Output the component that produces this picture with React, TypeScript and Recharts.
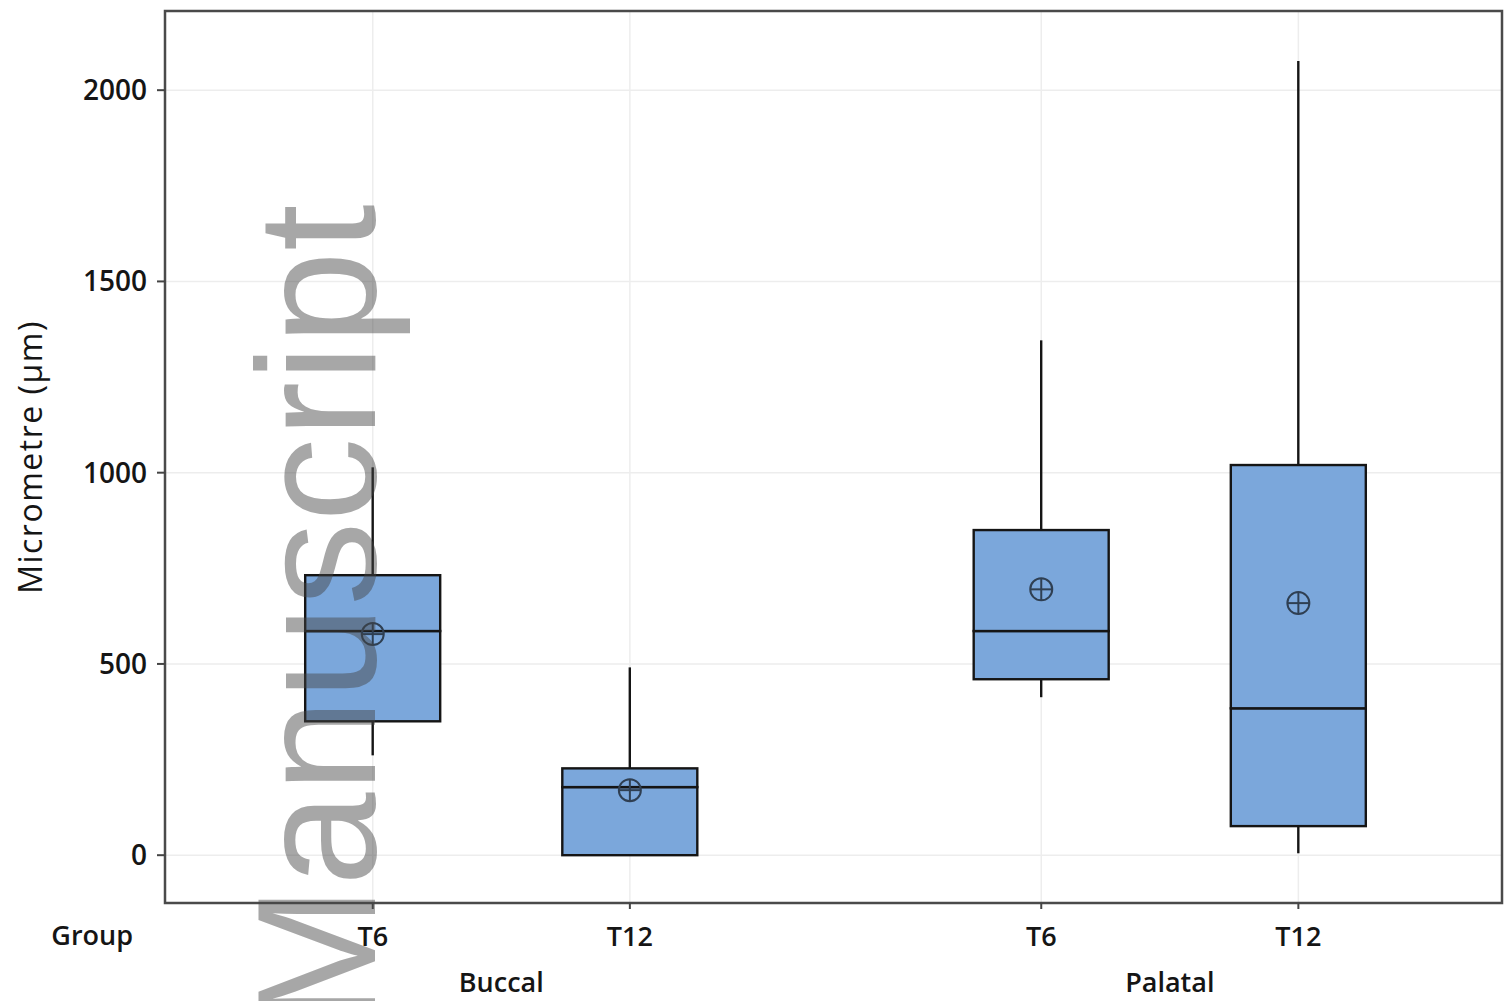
import React from 'react';
import {
  ComposedChart,
  Bar,
  Scatter,
  XAxis,
  YAxis,
  CartesianGrid,
  ReferenceArea,
} from 'recharts';

// box plot stats (micrometre)
const groups = ['Buccal', 'Palatal'];
const groupPos = [1.5, 4.1];
const times = ['T6', 'T12', 'T6', 'T12'];
const xPos = [1, 2, 3.6, 4.6];
const whiskerLow = [261, 0, 413, 5];
const q1 = [350, 0, 460, 76];
const median = [586, 178, 586, 384];
const q3 = [732, 227, 850, 1020];
const whiskerHigh = [1014, 491, 1346, 2076];
const mean = [578, 170, 695, 659];
const yTicks = [0, 500, 1000, 1500, 2000];

const X_DOMAIN: [number, number] = [0.192, 5.392];
const Y_DOMAIN: [number, number] = [-125, 2207];

const FONT = '"Open Sans", "Noto Sans", sans-serif';
const BOX_FILL = '#7ba7db';
const INK = '#151515';

// stacked segments: invisible base, lower whisker, lower box, upper box, upper whisker
const rows = xPos.map((x, i) => ({
  x,
  base: whiskerLow[i],
  lowWhisker: q1[i] - whiskerLow[i],
  lowBox: median[i] - q1[i],
  highBox: q3[i] - median[i],
  highWhisker: whiskerHigh[i] - q3[i],
  mean: mean[i],
}));

const Empty = () => <g />;

const Whisker = (props: any) => {
  const { x, y, width, height } = props;
  const cx = x + width / 2;
  return <line x1={cx} x2={cx} y1={y} y2={y + height} stroke={INK} strokeWidth={2.4} />;
};

const BoxPart = (props: any) => {
  const { x, y, width, height } = props;
  return (
    <rect x={x} y={y} width={width} height={Math.max(height, 0)} fill={BOX_FILL} stroke={INK} strokeWidth={2.4} />
  );
};

const MeanMarker = (props: any) => {
  const { cx, cy } = props;
  const r = 11;
  return (
    <g stroke="#2f3f52" strokeWidth={2} fill="none">
      <circle cx={cx} cy={cy} r={r} />
      <line x1={cx - r} x2={cx + r} y1={cy} y2={cy} />
      <line x1={cx} x2={cx} y1={cy - r} y2={cy + r} />
    </g>
  );
};

const tickStyle = { fontFamily: FONT, fontSize: 27, fontWeight: 600, fill: INK };
const yTickStyle = { ...tickStyle, fontSize: 28 };

export default function App() {
  return (
    <div style={{ position: 'absolute', left: 0, top: 0, width: 1504, height: 1001, background: '#fff' }}>
      <ComposedChart width={1504} height={1001} data={rows} margin={{ top: 11, right: 2, bottom: 0, left: 0 }}>
        <CartesianGrid stroke="#ededed" strokeWidth={1.5} />
        <XAxis
          dataKey="x"
          type="number"
          domain={X_DOMAIN}
          ticks={xPos}
          allowDataOverflow
          tickFormatter={(v: number) => times[xPos.indexOf(v)]}
          height={50}
          axisLine={false}
          tickSize={6}
          tickMargin={18}
          tickLine={{ stroke: '#444', strokeWidth: 2 }}
          tick={tickStyle}
          interval={0}
          label={{ value: 'Group', position: 'left', offset: 32, dy: 7, style: tickStyle }}
        />
        <XAxis
          xAxisId="grp"
          dataKey="x"
          type="number"
          domain={X_DOMAIN}
          ticks={groupPos}
          allowDataOverflow
          tickFormatter={(v: number) => groups[groupPos.indexOf(v)]}
          height={48}
          axisLine={false}
          tickLine={false}
          tickSize={6}
          tickMargin={14}
          tick={tickStyle}
          interval={0}
        />
        <YAxis
          type="number"
          domain={Y_DOMAIN}
          ticks={yTicks}
          allowDataOverflow
          width={165}
          axisLine={false}
          tickSize={8}
          tickMargin={10}
          tickLine={{ stroke: '#444', strokeWidth: 2 }}
          tick={yTickStyle}
          interval={0}
          label={{
            value: 'Micrometre (µm)',
            angle: -90,
            position: 'insideLeft',
            offset: 31,
            style: { textAnchor: 'middle', fontFamily: FONT, fontSize: 32, fontWeight: 500, letterSpacing: 1.5, fill: INK },
          }}
        />
        <ReferenceArea
          x1={X_DOMAIN[0]}
          x2={X_DOMAIN[1]}
          y1={Y_DOMAIN[0]}
          y2={Y_DOMAIN[1]}
          fill="none"
          fillOpacity={0}
          stroke="#4a4a4a"
          strokeWidth={2.5}
          ifOverflow="visible"
        />
        <Bar dataKey="base" stackId="box" barSize={135} shape={Empty} isAnimationActive={false} />
        <Bar dataKey="lowWhisker" stackId="box" barSize={135} shape={Whisker} isAnimationActive={false} />
        <Bar dataKey="lowBox" stackId="box" barSize={135} shape={BoxPart} isAnimationActive={false} />
        <Bar dataKey="highBox" stackId="box" barSize={135} shape={BoxPart} isAnimationActive={false} />
        <Bar dataKey="highWhisker" stackId="box" barSize={135} shape={Whisker} isAnimationActive={false} />
        <Scatter dataKey="mean" shape={MeanMarker} isAnimationActive={false} />
      </ComposedChart>
      <svg width={1504} height={1001} style={{ position: 'absolute', left: 0, top: 0, pointerEvents: 'none' }}>
        <text
          transform="translate(375 1026) rotate(-90)"
          fontFamily='"Liberation Sans", Arial, sans-serif'
          fontSize={168}
          fill="#444"
          fillOpacity={0.47}
        >
          Manuscript
        </text>
      </svg>
    </div>
  );
}
